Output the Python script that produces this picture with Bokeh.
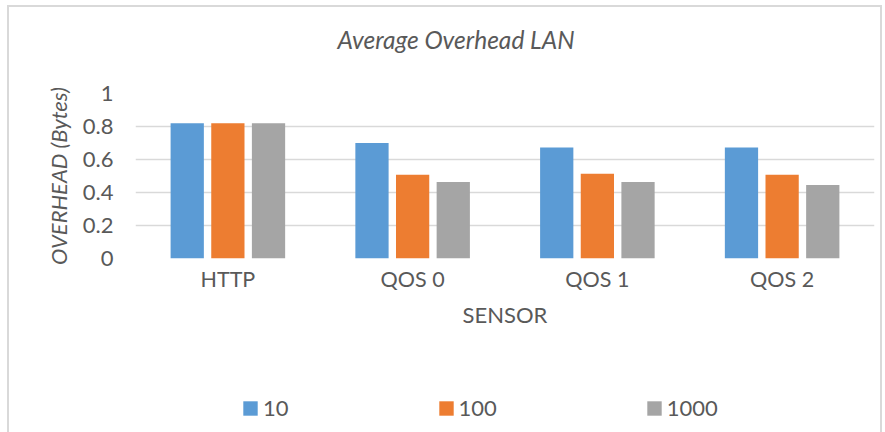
from bokeh.plotting import figure
from bokeh.layouts import column
from bokeh.models import (ColumnDataSource, FactorRange, Range1d, FixedTicker, Legend,
                          LegendItem, Title)
from bokeh.transform import dodge
from bokeh.embed import file_html
from bokeh.resources import INLINE

categories = ["HTTP", "QOS 0", "QOS 1", "QOS 2"]
series_names = ["10", "100", "1000"]
values_10 = [0.82, 0.70, 0.673, 0.673]
values_100 = [0.82, 0.507, 0.513, 0.507]
values_1000 = [0.82, 0.464, 0.464, 0.446]
y_ticks = [0, 0.2, 0.4, 0.6, 0.8, 1.0]
y_tick_labels = ["0", "0.2", "0.4", "0.6", "0.8", "1"]
title_text = "Average Overhead LAN"
x_title = "SENSOR"
y_title = "OVERHEAD (Bytes)"
colors = ["#5B9BD5", "#ED7D31", "#A5A5A5"]
FONT = "Lato"
TXT = "#595959"
BORDER = "2px solid #d9d9d9"

source = ColumnDataSource(dict(cat=categories, s10=values_10, s100=values_100, s1000=values_1000))
cols = ["s10", "s100", "s1000"]
offsets = [-0.22, 0.0, 0.22]

# ---- main chart ----
x_range = FactorRange(*categories)
p = figure(x_range=x_range, y_range=Range1d(0, 1), title=None,
           width=875, height=375, output_backend="svg", toolbar_location=None,
           min_border_left=126, min_border_right=10, min_border_top=86, min_border_bottom=124)
p.styles = {"border-top": BORDER, "border-left": BORDER, "border-right": BORDER}
p.outline_line_color = None
p.background_fill_color = "white"
p.border_fill_color = "white"

spacer_title = Title(text=" ", text_font_size="1px", standoff=37)
p.add_layout(spacer_title, "above")
main_title = Title(text=title_text, align="left", offset=202, standoff=0,
                   text_font=FONT, text_font_style="italic", text_font_size="24.5px",
                   text_color=TXT)
p.add_layout(main_title, "above")

for col, off, c in zip(cols, offsets, colors):
    p.vbar(x=dodge("cat", off, range=x_range), top=col, width=0.18, source=source,
           fill_color=c, line_color=None)

p.xgrid.grid_line_color = None
p.ygrid.grid_line_color = "#d9d9d9"
p.ygrid.grid_line_width = 1.5
p.yaxis.ticker = FixedTicker(ticks=y_ticks)
p.yaxis.major_label_overrides = {t: l for t, l in zip(y_ticks, y_tick_labels)}

for ax in (p.xaxis[0], p.yaxis[0]):
    ax.axis_line_color = None
    ax.major_tick_line_color = None
    ax.minor_tick_line_color = None
    ax.major_tick_in = 0
    ax.major_tick_out = 0
    ax.major_label_text_font = FONT
    ax.major_label_text_color = TXT
    ax.axis_label_text_font = FONT
    ax.axis_label_text_color = TXT

p.yaxis.major_label_text_font_size = "22px"
p.yaxis.major_label_standoff = 22
p.yaxis.axis_label = y_title
p.yaxis.axis_label_text_font_style = "italic"
p.yaxis.axis_label_text_font_size = "22px"
p.yaxis.axis_label_standoff = 8

p.xaxis.major_label_text_font_size = "21.5px"
p.xaxis.major_label_standoff = 7
p.xaxis.axis_label = x_title
p.xaxis.axis_label_text_font_style = "normal"
p.xaxis.axis_label_text_font_size = "22px"
p.xaxis.axis_label_standoff = 6

# ---- legend strip (same series; its bars lie outside this strip's visible y range) ----
pl = figure(width=875, height=52, output_backend="svg", toolbar_location=None,
            x_range=x_range, y_range=Range1d(10, 11),
            x_axis_type=None, y_axis_type=None,
            min_border_left=0, min_border_right=0, min_border_top=0, min_border_bottom=0)
pl.styles = {"border-left": BORDER, "border-right": BORDER}
pl.outline_line_color = None
pl.background_fill_color = "white"
pl.border_fill_color = "white"
pl.xgrid.grid_line_color = None
pl.ygrid.grid_line_color = None
key_renderers = []
for col, off, c in zip(cols, offsets, colors):
    key_renderers.append(pl.vbar(x=dodge("cat", off, range=x_range), top=col, width=0.18,
                                 source=source, fill_color=c, line_color=None))

legend = Legend(items=[LegendItem(label=n, renderers=[r]) for n, r in zip(series_names, key_renderers)],
                location=(106, 11), orientation="horizontal", padding=0, margin=0, spacing=148,
                border_line_color=None, background_fill_alpha=0, glyph_width=18, glyph_height=18,
                label_standoff=4, label_text_font_size="22px", label_text_color=TXT,
                label_text_font=FONT)
pl.add_layout(legend)

layout = column(p, pl, spacing=0, styles={"position": "relative", "left": "7px", "top": "5px"})

open("out.html", "w").write(file_html(layout, INLINE))
